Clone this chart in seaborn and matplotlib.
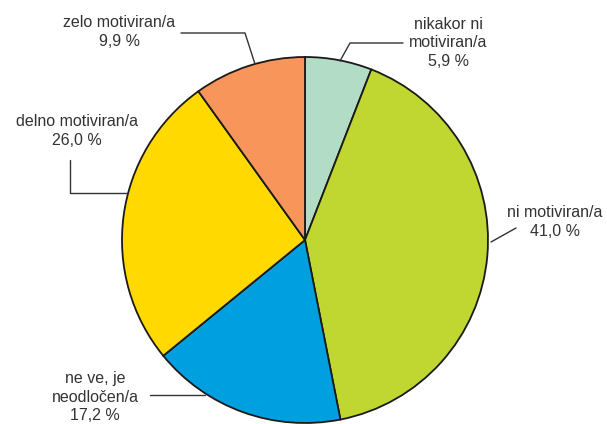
import matplotlib
matplotlib.use("Agg")
import matplotlib.pyplot as plt
import seaborn as sns

sns.set_theme(style="white")
plt.rcParams['font.family'] = ['Liberation Sans', 'DejaVu Sans']

categories = ["nikakor ni\nmotiviran/a", "ni motiviran/a", "ne ve, je\nneodločen/a",
              "delno motiviran/a", "zelo motiviran/a"]
values = [5.9, 41.0, 17.2, 26.0, 9.9]
value_labels = ["5,9 %", "41,0 %", "17,2 %", "26,0 %", "9,9 %"]
colors = ["#b2dcc5", "#c0d731", "#009fe0", "#ffd900", "#f7955a"]

W, H = 607, 424
CX, CY, R = 305, 240, 183

fig = plt.figure(figsize=(W / 100, H / 100), dpi=100)
ax = fig.add_axes([0, 0, 1, 1])

ax.pie(values, colors=colors, startangle=90, counterclock=False, radius=1,
       wedgeprops=dict(edgecolor="#1a1a1a", linewidth=1.3))

ax.set_xlim((0 - CX) / R, (W - CX) / R)
ax.set_ylim((CY - H) / R, CY / R)
ax.set_aspect('auto')
ax.axis('off')


def P(x, y):
    return ((x - CX) / R, (CY - y) / R)


txt = dict(fontsize=11.5, color="#333333", linespacing=1.3)
lc = dict(color="#333333", lw=1.0)

# label texts (pixel layout)
layout = {
    0: (448, 43, 'center'),
    1: (555, 222, 'center'),
    2: (95, 397, 'center'),
    3: (77, 131, 'center'),
    4: (119, 32, 'center'),
}
for i, (x, y, ha) in layout.items():
    ax.text(*P(x, y), categories[i] + "\n" + value_labels[i], ha=ha, va='center', **txt)

# leader lines
leaders = [
    [(403, 43), (350, 43), (340, 61)],
    [(516, 228), (491, 242)],
    [(150, 395), (205, 395)],
    [(70, 160), (70, 193), (128, 193)],
    [(181, 33), (245, 33), (255, 64)],
]
for pts in leaders:
    xs, ys = zip(*[P(x, y) for x, y in pts])
    ax.plot(xs, ys, **lc)

fig.savefig("out.png", dpi=100)
